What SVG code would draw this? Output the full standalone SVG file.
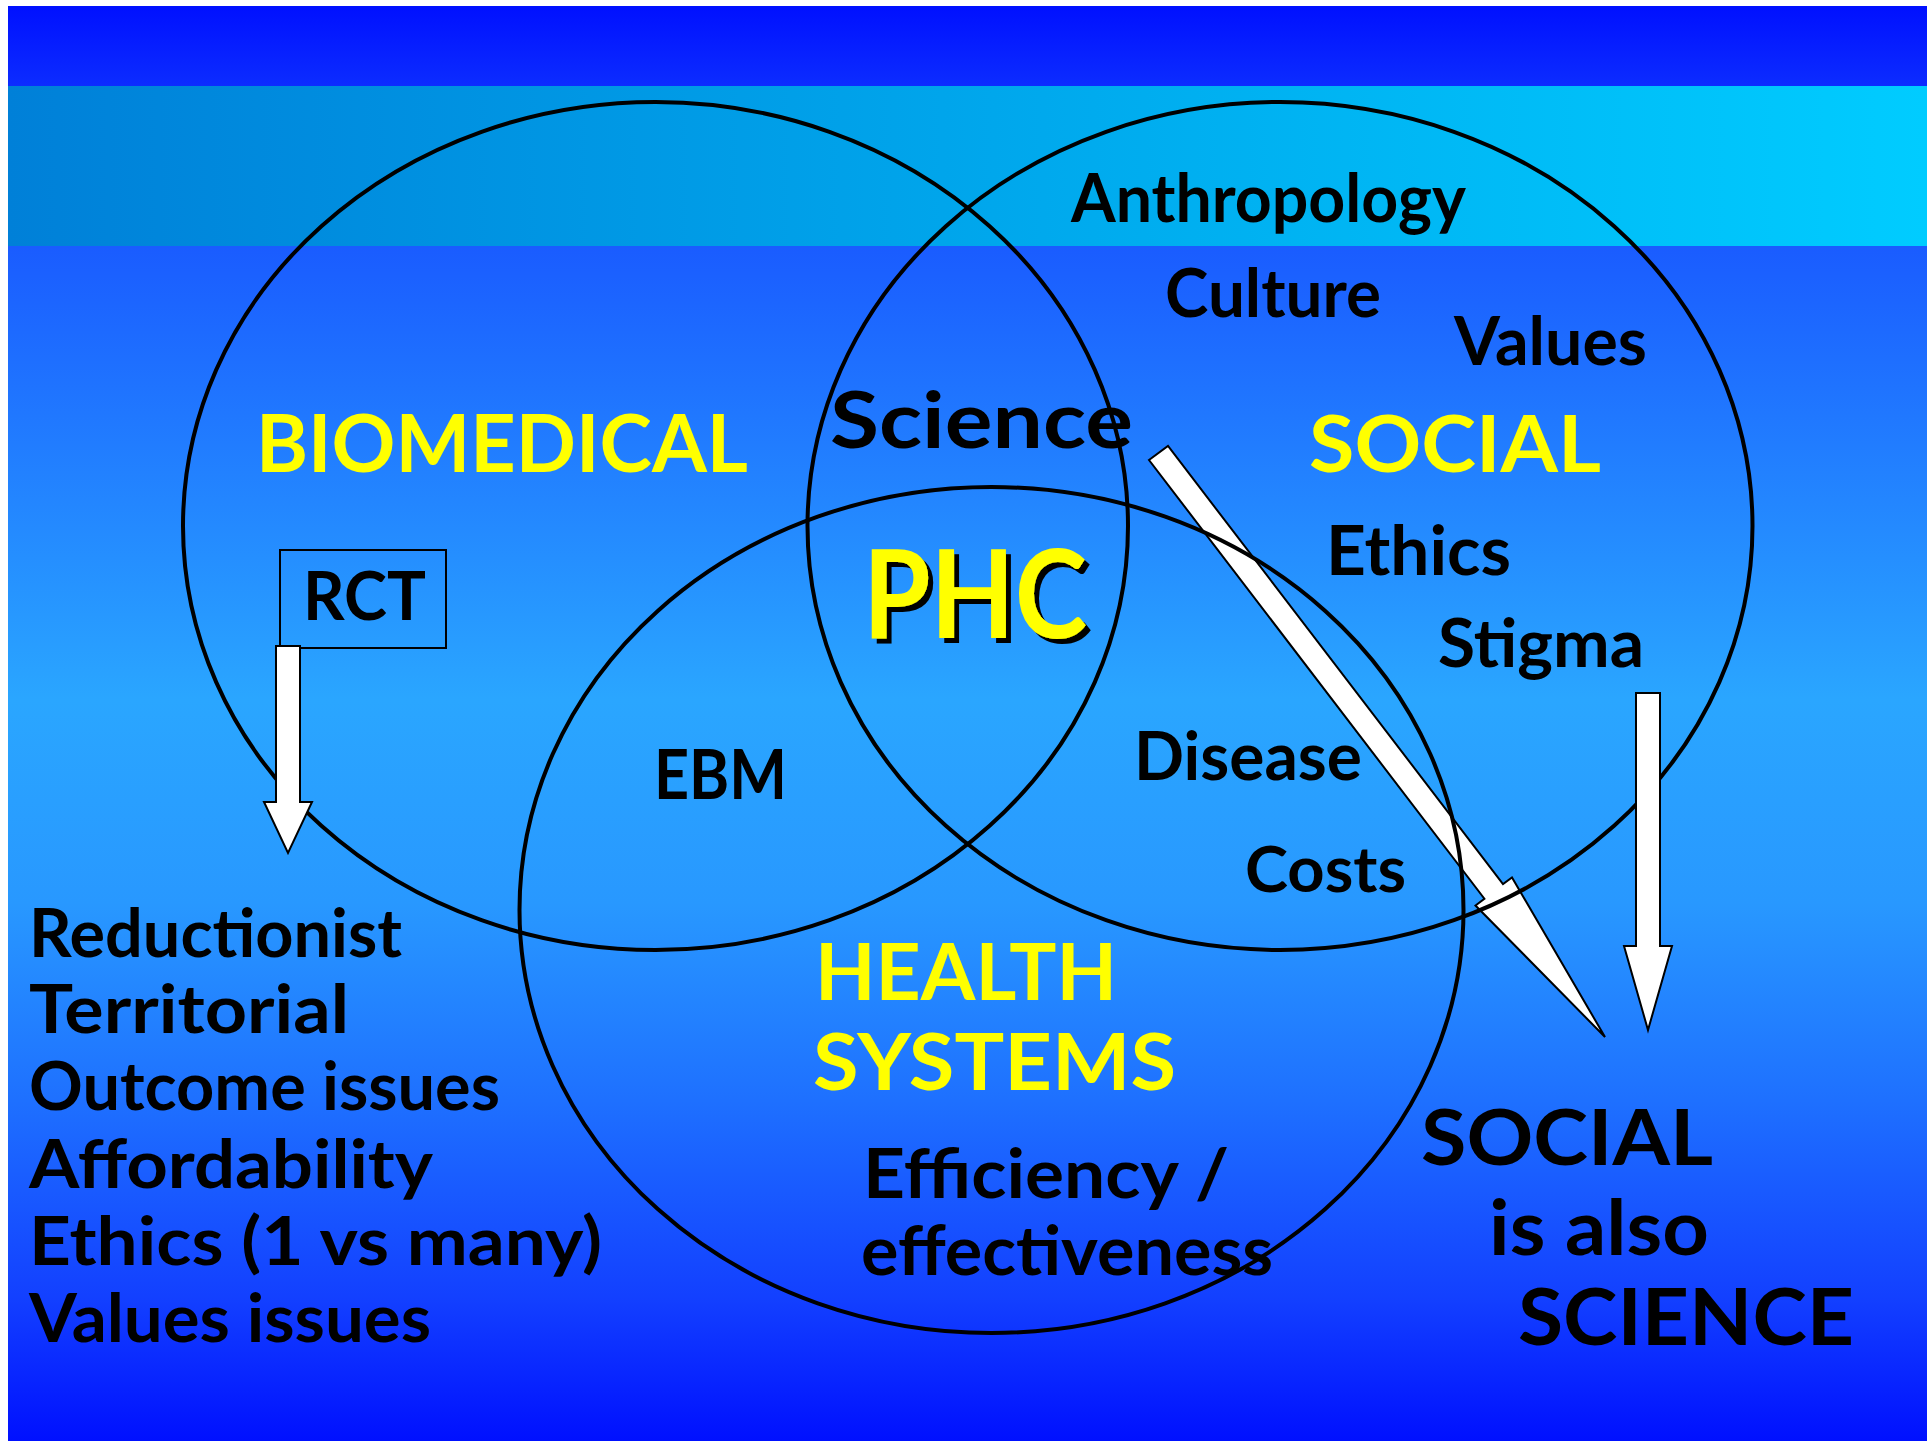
<svg xmlns="http://www.w3.org/2000/svg" width="1927" height="1441" viewBox="0 0 1927 1441">
<defs>
  <linearGradient id="topBand" x1="0" y1="6" x2="0" y2="86" gradientUnits="userSpaceOnUse">
    <stop offset="0" stop-color="#0010ff"/>
    <stop offset="1" stop-color="#0c2cff"/>
  </linearGradient>
  <linearGradient id="cyanBand" x1="8" y1="0" x2="1927" y2="0" gradientUnits="userSpaceOnUse">
    <stop offset="0" stop-color="#0080d8"/>
    <stop offset="1" stop-color="#00ccff"/>
  </linearGradient>
  <linearGradient id="mainBg" x1="0" y1="246" x2="0" y2="1441" gradientUnits="userSpaceOnUse">
    <stop offset="0" stop-color="#1a5cff"/>
    <stop offset="0.38" stop-color="#2aa6ff"/>
    <stop offset="0.55" stop-color="#2898ff"/>
    <stop offset="0.715" stop-color="#1e70ff"/>
    <stop offset="0.88" stop-color="#1340ff"/>
    <stop offset="1" stop-color="#0010ff"/>
  </linearGradient>
  <filter id="shadow" x="-10%" y="-10%" width="130%" height="130%">
    <feOffset in="SourceAlpha" dx="5" dy="5" result="off"/>
    <feFlood flood-color="#000000"/>
    <feComposite in2="off" operator="in" result="sh"/>
    <feMerge>
      <feMergeNode in="sh"/>
      <feMergeNode in="SourceGraphic"/>
    </feMerge>
  </filter>
</defs>
<style>
  text { font-family: "Lato", "Open Sans", "DejaVu Sans", sans-serif; font-weight: bold; }
  .blk { fill: #000000; }
  .yel { fill: #ffff00; }
  .ring { fill: none; stroke: #000000; stroke-width: 4; }
  .arrow { fill: #ffffff; stroke: #000000; stroke-width: 2; stroke-linejoin: miter; }
  .box { fill: none; stroke: #000000; stroke-width: 2; }
</style>

<g id="background">
  <rect x="0" y="0" width="1927" height="1441" fill="#ffffff"/>
  <rect x="8" y="6" width="1919" height="80" fill="url(#topBand)"/>
  <rect x="8" y="86" width="1919" height="160" fill="url(#cyanBand)"/>
  <rect x="8" y="246" width="1919" height="1195" fill="url(#mainBg)"/>
</g>

<g id="connectors">
  <polygon id="arrow-science-social" class="arrow" points="1149,460 1168,446 1503,884 1512,877.5 1605,1037 1475.5,905.5 1484.4,898.7"/>
</g>

<g id="node-biomedical">
  <ellipse class="ring" cx="655.5" cy="526" rx="472.5" ry="424"/>
  <text class="yel" x="256" y="472" font-size="80" textLength="492" lengthAdjust="spacingAndGlyphs">BIOMEDICAL</text>
</g>
<g id="node-social">
  <ellipse class="ring" cx="1280" cy="526" rx="472.5" ry="424"/>
  <text class="yel" x="1309" y="472" font-size="78" textLength="292" lengthAdjust="spacingAndGlyphs">SOCIAL</text>
  <text class="blk" x="1071" y="222" font-size="66" textLength="395" lengthAdjust="spacingAndGlyphs">Anthropology</text>
  <text class="blk" x="1165" y="317" font-size="66" textLength="216" lengthAdjust="spacingAndGlyphs">Culture</text>
  <text class="blk" x="1454" y="365" font-size="66" textLength="193" lengthAdjust="spacingAndGlyphs">Values</text>
  <text class="blk" x="1326" y="575" font-size="69" textLength="185" lengthAdjust="spacingAndGlyphs">Ethics</text>
  <text class="blk" x="1438" y="667" font-size="66" textLength="206" lengthAdjust="spacingAndGlyphs">Stigma</text>
</g>
<g id="node-health-systems">
  <ellipse class="ring" cx="991.5" cy="910" rx="472" ry="423"/>
  <text class="yel" x="815" y="1000" font-size="78" textLength="302" lengthAdjust="spacingAndGlyphs">HEALTH</text>
  <text class="yel" x="813" y="1090" font-size="78" textLength="363" lengthAdjust="spacingAndGlyphs">SYSTEMS</text>
  <text class="blk" x="863" y="1198" font-size="68" textLength="366" lengthAdjust="spacingAndGlyphs">Efficiency /</text>
  <text class="blk" x="861" y="1275" font-size="68" textLength="412" lengthAdjust="spacingAndGlyphs">effectiveness</text>
</g>

<g id="node-science">
  <text class="blk" x="830" y="448" font-size="78" textLength="303" lengthAdjust="spacingAndGlyphs">Science</text>
</g>
<g id="node-phc">
  <text class="yel" x="863" y="638" font-size="122" textLength="224" lengthAdjust="spacingAndGlyphs" filter="url(#shadow)">PHC</text>
</g>
<g id="node-ebm">
  <text class="blk" x="654" y="799" font-size="68" textLength="133" lengthAdjust="spacingAndGlyphs">EBM</text>
</g>
<g id="node-disease">
  <text class="blk" x="1134" y="780" font-size="66" textLength="228" lengthAdjust="spacingAndGlyphs">Disease</text>
</g>
<g id="node-costs">
  <text class="blk" x="1245" y="892" font-size="64" textLength="161" lengthAdjust="spacingAndGlyphs">Costs</text>
</g>

<g id="node-rct">
  <rect class="box" x="280" y="550" width="166" height="98"/>
  <text class="blk" x="303" y="620" font-size="66" textLength="123" lengthAdjust="spacingAndGlyphs">RCT</text>
</g>

<g id="connectors-vertical">
  <polygon id="arrow-rct" class="arrow" points="276,646 300,646 300,802 312,802 288,853 264,802 276,802"/>
  <polygon id="arrow-social-down" class="arrow" points="1636,693 1660,693 1660,946 1672,946 1648,1030 1624,946 1636,946"/>
</g>

<g id="node-rct-issues">
  <text class="blk" x="29" y="957" font-size="66" textLength="373" lengthAdjust="spacingAndGlyphs">Reductionist</text>
  <text class="blk" x="29" y="1033" font-size="66" textLength="320" lengthAdjust="spacingAndGlyphs">Territorial</text>
  <text class="blk" x="29" y="1110" font-size="66" textLength="471" lengthAdjust="spacingAndGlyphs">Outcome issues</text>
  <text class="blk" x="29" y="1188" font-size="66" textLength="404" lengthAdjust="spacingAndGlyphs">Affordability</text>
  <text class="blk" x="29" y="1265" font-size="66" textLength="573" lengthAdjust="spacingAndGlyphs">Ethics (1 vs many)</text>
  <text class="blk" x="29" y="1342" font-size="66" textLength="402" lengthAdjust="spacingAndGlyphs">Values issues</text>
</g>

<g id="node-social-science">
  <text class="blk" x="1421" y="1165" font-size="76" textLength="292" lengthAdjust="spacingAndGlyphs">SOCIAL</text>
  <text class="blk" x="1489" y="1255" font-size="76" textLength="220" lengthAdjust="spacingAndGlyphs">is also</text>
  <text class="blk" x="1518" y="1345" font-size="78" textLength="336" lengthAdjust="spacingAndGlyphs">SCIENCE</text>
</g>
</svg>
